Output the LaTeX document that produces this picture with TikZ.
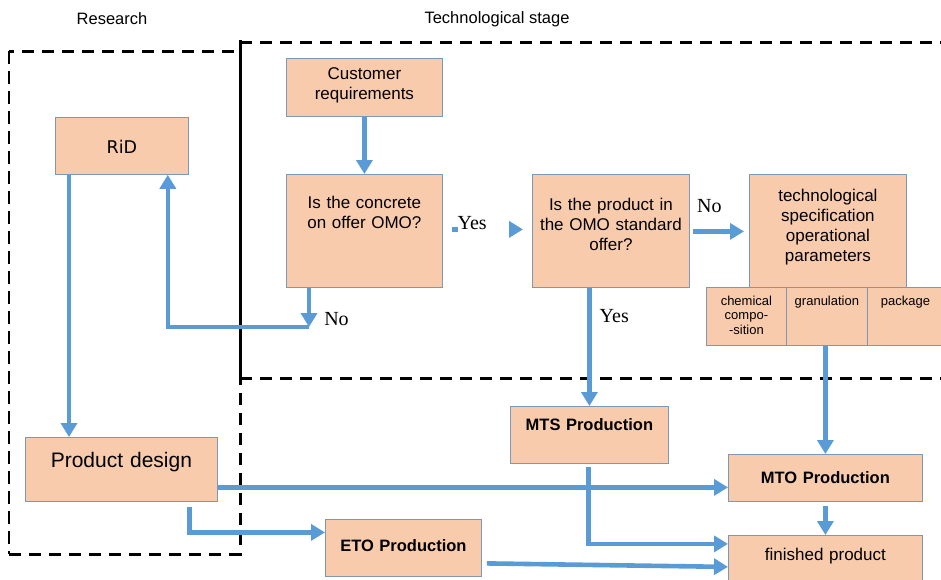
\documentclass[tikz,border=0pt]{standalone}
\usepackage{fontspec}
\setmainfont{Liberation Sans}
\newfontfamily\labelfont{Liberation Serif}
\newfontfamily\ridfont{DejaVu Sans}
\usetikzlibrary{positioning,arrows.meta,calc}
\definecolor{boxpeach}{RGB}{248,203,173}
\definecolor{boxedge}{RGB}{125,152,182}
\definecolor{flowblue}{RGB}{91,155,213}

\begin{document}
\begin{tikzpicture}[
  x=1pt, y=-1pt,
  box/.style={draw=boxedge, fill=boxpeach, line width=0.8pt, align=center,
    inner sep=0pt, anchor=north west, font=\fontsize{17}{20}\selectfont},
  prod/.style={box, font=\fontsize{16.5}{20}\selectfont\bfseries},
  small/.style={box, font=\fontsize{13}{14.5}\selectfont},
  head/.style={font=\fontsize{16.5}{20}\selectfont},
  lbl/.style={font=\fontsize{20}{22}\selectfont\labelfont, text=black, inner sep=2pt},
  arr/.style={-{Triangle[length=14pt,width=16pt]}, flowblue, line width=4.6pt},
  frame/.style={dash pattern=on 12pt off 8pt, line width=3pt},
  thinframe/.style={dash pattern=on 13pt off 7pt, line width=1.3pt},
]
\useasboundingbox (0,0) rectangle (941,579);

% ---- stage frames ----
\node[head] (research) at (112,19) {Research};
\node[head] (techstage) at (497,19) {Technological stage};
\draw[frame] (9,554) -- (240,554) -- (240,51) -- (9,51);
\draw[thinframe] (9,51) -- (9,554);
\draw[frame] (240,42) -- (941,42);
\draw[frame] (240,378) -- (941,378);
\draw[line width=3pt] (240,40) -- (240,378);

% ---- research column ----
\node[box, text width=133pt, text height=36pt, text depth=21pt,
      font=\fontsize{17.5}{20}\ridfont] (rid) at (55,117) {RiD};
\node[box, text width=192pt, text height=30pt, text depth=34pt,
      font=\fontsize{21}{24}\selectfont] (pd) at (25,437) {Product design};

% ---- technological stage ----
\node[box, text width=156pt, text height=21pt, text depth=37pt]
  (cust) at (286,58) {Customer\\requirements};
\node[box, text width=156pt, text height=34pt, text depth=79pt]
  (concrete) at (286,174) {Is the concrete\\on offer OMO?};
\node[box, text width=157pt, text height=36pt, text depth=77pt]
  (offer) at (532,174) {Is the product in\\the OMO standard\\offer?};
\node[box, text width=157pt, text height=27pt, text depth=86pt]
  (techspec) at (749,174)
  {technological\\specification\\operational\\parameters};
\node[small, text width=80pt, text height=18pt, text depth=40pt]
  (chem) at (706,287) {chemical\\compo-\\-sition};
\node[small, text width=81pt, text height=18pt, text depth=40pt]
  (gran) at (786,287) {granulation};
\node[small, text width=76pt, text height=18pt, text depth=40pt]
  (pack) at (867,287) {package};

% ---- production ----
\node[prod, text width=158pt, text height=24pt, text depth=33pt]
  (mts) at (510,406) {MTS Production};
\node[prod, text width=194pt, text height=29pt, text depth=18pt]
  (mto) at (728,454) {MTO Production};
\node[prod, text width=156pt, text height=32pt, text depth=25pt]
  (eto) at (325,519) {ETO Production};
\node[box, text width=194pt, text height=25pt, text depth=21pt]
  (fin) at (728,535) {finished product};

% ---- arrows ----
\coordinate (noturn) at (309,327);
\draw[arr] (cust.south) -- (concrete.north);
\draw[arr] (concrete.south -| noturn) --
  node[lbl, pos=0.8, right=11pt]{No} (noturn);
\draw[arr] (noturn) -| ($(rid.south east)+(-21,0)$);
\draw[arr] (rid.south west) ++(14,0) coordinate (ridout) -- (ridout |- pd.north);
\draw[arr] ($(concrete.east)+(9,-1.5)$) --
  node[lbl, pos=0.44, anchor=base, fill=white, text width=51pt, align=left,
       inner xsep=0pt, inner ysep=3pt]{Yes}
  ($(offer.west)+(-9,-1.5)$);
\draw[arr] ($(offer.east)+(3,0.5)$) --
  node[lbl, pos=0, anchor=base west, yshift=19pt]{No}
  ($(techspec.west)+(-5,0.5)$);
\draw[arr] (offer.south -| mts.north) --
  node[lbl, pos=0.235, right=6pt]{Yes} (mts.north);
\draw[arr] (gran.south -| mto.north) -- (mto.north);
\draw[arr] (mto.south) ++(0,4) -- (fin.north);
\draw[arr] (mts.south) ++(-1,3) |- ($(fin.west)+(0,-14.5)$);
\draw[arr] ($(pd.east)+(0,18)$) -- ($(mto.west)+(0,9.5)$);
\draw[arr] (pd.south) ++(68,5) |- ($(eto.west)+(0,-15.5)$);
\draw[arr] ($(eto.east)+(5,15.5)$) -- ($(fin.west)+(0,8.5)$);

\end{tikzpicture}
\end{document}
